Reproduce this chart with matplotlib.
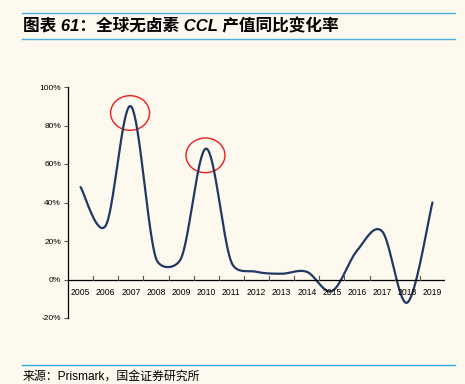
import matplotlib
matplotlib.use('Agg')
import matplotlib.pyplot as plt
from matplotlib.patches import Ellipse
from matplotlib.lines import Line2D
import numpy as np

plt.rcParams['font.family'] = ['Liberation Sans', 'Noto Sans CJK SC', 'DejaVu Sans']

years = ['2005', '2006', '2007', '2008', '2009', '2010', '2011', '2012',
         '2013', '2014', '2015', '2016', '2017', '2018', '2019']
growth = [48, 28, 90, 11, 11, 68, 9, 4, 3, 4, -6, 15, 25, -12, 40]
yticks = [-20, 0, 20, 40, 60, 80, 100]
highlight = [2, 5]  # 2007, 2010

BG = '#fef9ee'
LINE = '#1f3864'
RULE = '#4aaee0'

# pixel size of one category / one percent, used so the smoothing
# behaves like a spreadsheet chart (done in screen space)
XPX = 377 / 15.0
YPX = 231 / 120.0


def smooth(xs, ys, n=40):
    # bezier smoothing with control points capped at half the segment length
    P = np.column_stack([np.asarray(xs, float) * XPX, np.asarray(ys, float) * YPX])
    P = np.vstack([P[0], P, P[-1]])
    out = []
    t = np.linspace(0, 1, n)[:, None]
    for i in range(1, len(P) - 2):
        p0, p1, p2, p3 = P[i - 1], P[i], P[i + 1], P[i + 2]
        d12 = np.hypot(*(p2 - p1))
        d02 = np.hypot(*(p2 - p0))
        d13 = np.hypot(*(p3 - p1))
        f1 = 1 / 6.0
        f2 = 1 / 6.0
        if d02 / 6.0 > d12 / 2.0:
            f1 = d12 / (2.0 * d02)
        if d13 / 6.0 > d12 / 2.0:
            f2 = d12 / (2.0 * d13)
        c1 = p1 + (p2 - p0) * f1
        c2 = p2 - (p3 - p1) * f2
        seg = ((1 - t) ** 3 * p1 + 3 * (1 - t) ** 2 * t * c1
               + 3 * (1 - t) * t ** 2 * c2 + t ** 3 * p2)
        out.append(seg)
    out = np.vstack(out)
    return out[:, 0] / XPX, out[:, 1] / YPX


fig = plt.figure(figsize=(4.65, 3.84), dpi=100, facecolor=BG)
ax = fig.add_axes([68 / 465, 1 - 318 / 384, 377 / 465, 231 / 384])
ax.set_facecolor(BG)

x = np.arange(len(years))
sx, sy = smooth(x, growth)
ax.plot(sx, sy, color=LINE, lw=1.6, solid_capstyle='round')

for i in highlight:
    ax.add_patch(Ellipse((x[i] - 0.03, growth[i] - 3.5), 1.55, 18,
                         fill=False, edgecolor='#ee1c1c', lw=1.0))

ax.set_xlim(-0.5, len(years) - 0.5)
ax.set_ylim(-20, 100)
ax.set_yticks(yticks)
ax.set_yticklabels(['{}%'.format(v) for v in yticks])
ax.tick_params(axis='y', length=3, width=0.8, labelsize=6, pad=2, color='#555555')

# category axis sits on the zero line, ticks between categories
ax.set_xticks([])
ax.axhline(0, color='black', lw=0.9)
for b in np.arange(0.5, len(years) - 0.5 + 1e-6, 1.0):
    ax.plot([b, b], [0, 1.6], color='#555555', lw=0.8)
for i, yr in enumerate(years):
    ax.text(i, -4.2, yr, ha='center', va='top', fontsize=6.2)

for s in ['top', 'right', 'bottom']:
    ax.spines[s].set_visible(False)
ax.spines['left'].set_linewidth(0.9)

# header and footer
fig.add_artist(Line2D([22 / 465, 455 / 465], [1 - 13 / 384] * 2, color=RULE, lw=1.0))
fig.add_artist(Line2D([22 / 465, 455 / 465], [1 - 39 / 384] * 2, color=RULE, lw=1.0))
fig.add_artist(Line2D([22 / 465, 455 / 465], [1 - 365 / 384] * 2, color='#29aae1', lw=1.0))
fig.text(23 / 465, 1 - 26 / 384, '图表 61：全球无卤素 CCL 产值同比变化率',
         fontsize=12, fontweight='bold', style='italic', va='center',
         family=['Liberation Sans', 'Noto Sans CJK SC'])
fig.text(23 / 465, 1 - 377 / 384, '来源：Prismark，国金证券研究所',
         fontsize=8.6, va='center', family=['Liberation Sans', 'Noto Sans CJK SC'])

fig.savefig('out.png', dpi=100, facecolor=BG)
